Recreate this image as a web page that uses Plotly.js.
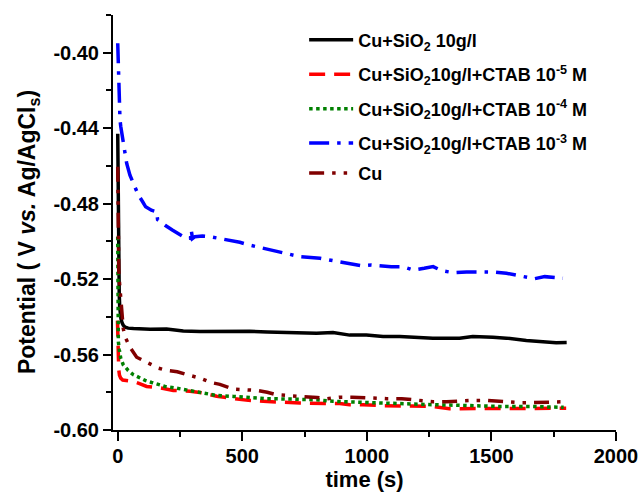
<!DOCTYPE html>
<html>
<head>
<meta charset="utf-8">
<script src="https://cdn.plot.ly/plotly-3.0.1.min.js"></script>
<style>html,body{margin:0;padding:0;background:#fff;}#chart{width:641px;height:495px;}</style>
</head>
<body>
<div id="chart"></div>
<script>
// ---- data ----
const seriesNames = [
  'Cu+SiO<sub>2</sub> 10g/l',
  'Cu+SiO<sub>2</sub>10g/l+CTAB 10<sup>-5</sup> M',
  'Cu+SiO<sub>2</sub>10g/l+CTAB 10<sup>-4</sup> M',
  'Cu+SiO<sub>2</sub>10g/l+CTAB 10<sup>-3</sup> M',
  'Cu'
];
const xTitle = 'time (s)';
const yTitle = 'Potential ( V <i>vs.</i> Ag/AgCl<sub>s</sub>)';

const tBlack = [0, 2, 4, 6, 8, 10, 13, 17, 22, 30, 42, 63, 100, 130, 196, 230, 263, 330, 400, 463, 530, 600, 660, 731, 798, 864, 931, 998, 1065, 1132, 1225, 1265, 1372, 1425, 1506, 1560, 1640, 1720, 1760, 1802];
const vBlack = [-0.443, -0.485, -0.515, -0.528, -0.535, -0.538, -0.541, -0.543, -0.5445, -0.5455, -0.546, -0.5462, -0.5465, -0.5466, -0.5464, -0.5468, -0.5475, -0.5478, -0.5478, -0.5475, -0.5477, -0.548, -0.5482, -0.5487, -0.5487, -0.5483, -0.5497, -0.5497, -0.5504, -0.5504, -0.5513, -0.5513, -0.5513, -0.5504, -0.5508, -0.5513, -0.5526, -0.5536, -0.5537, -0.5536];

const tRed = [-1, 0, 1, 2, 4, 7, 12, 20, 40, 63, 90, 116, 170, 223, 290, 343, 397, 450, 524, 584, 664, 731, 831, 891, 931, 984, 1065, 1125, 1205, 1265, 1332, 1392, 1405, 1465, 1538, 1598, 1678, 1738, 1800];
const vRed = [-0.542, -0.550, -0.557, -0.563, -0.568, -0.571, -0.5725, -0.5735, -0.574, -0.5742, -0.5755, -0.5769, -0.5777, -0.579, -0.5795, -0.5804, -0.5821, -0.583, -0.5843, -0.5848, -0.5854, -0.5857, -0.586, -0.586, -0.5866, -0.5866, -0.5871, -0.5871, -0.5875, -0.5875, -0.5887, -0.5887, -0.5887, -0.5887, -0.5887, -0.5887, -0.5888, -0.5888, -0.5885];

const tGreen = [0, 0.5, 1, 1.5, 2.4, 6.4, 12, 22, 42, 63, 87, 110, 136, 163, 190, 236, 290, 343, 397, 464, 530, 598, 700, 798, 864, 1000, 1132, 1265, 1400, 1530, 1660, 1790];
const vGreen = [-0.4975, -0.51, -0.525, -0.54, -0.5531, -0.5575, -0.5619, -0.5654, -0.5684, -0.5707, -0.5725, -0.5737, -0.5748, -0.576, -0.5769, -0.5778, -0.5792, -0.5804, -0.5817, -0.5822, -0.583, -0.5834, -0.5836, -0.584, -0.5848, -0.5855, -0.586, -0.5866, -0.587, -0.5875, -0.5875, -0.588];

const tBlue = [0, 1, 2, 3, 4, 6, 9, 12, 16, 22, 29, 36, 49, 65, 83, 100, 112, 135, 156, 160, 170, 190, 219, 240, 263, 280, 292, 295, 300, 310, 340, 370, 410, 450, 490, 530, 600, 660, 731, 812, 858, 900, 932, 976, 1018, 1060, 1098, 1145, 1186, 1230, 1266, 1300, 1346, 1400, 1466, 1513, 1560, 1600, 1627, 1673, 1714, 1750, 1787];
const vBlue = [-0.395, -0.401, -0.408, -0.4125, -0.419, -0.428, -0.4353, -0.439, -0.442, -0.447, -0.4526, -0.4587, -0.4649, -0.470, -0.4755, -0.479, -0.4817, -0.4835, -0.4843, -0.4885, -0.4896, -0.4915, -0.494, -0.4958, -0.4975, -0.498, -0.4985, -0.494, -0.4985, -0.4975, -0.4972, -0.4975, -0.4985, -0.4993, -0.5005, -0.502, -0.504, -0.506, -0.5081, -0.509, -0.510, -0.511, -0.512, -0.5129, -0.5125, -0.513, -0.5134, -0.5134, -0.5152, -0.5143, -0.5134, -0.5155, -0.5166, -0.5162, -0.516, -0.5163, -0.5169, -0.5178, -0.5183, -0.5198, -0.5187, -0.519, -0.5196];

const tCu = [0, 0.5, 1, 2, 4, 6, 9, 13, 16, 22, 29, 49, 76, 116, 163, 196, 239, 279, 330, 373, 410, 464, 510, 557, 600, 638, 690, 744, 800, 840, 890, 940, 1000, 1080, 1140, 1200, 1265, 1320, 1380, 1420, 1480, 1540, 1610, 1660, 1720, 1790, 1800];
const vCu = [-0.4605, -0.48, -0.495, -0.508, -0.515, -0.52, -0.525, -0.533, -0.540, -0.546, -0.5505, -0.5561, -0.5614, -0.564, -0.5672, -0.5684, -0.5691, -0.5707, -0.5725, -0.5748, -0.5758, -0.5783, -0.5786, -0.579, -0.580, -0.5813, -0.5818, -0.5822, -0.5828, -0.5834, -0.5826, -0.5826, -0.583, -0.5834, -0.5834, -0.584, -0.585, -0.585, -0.5845, -0.5843, -0.5843, -0.585, -0.5855, -0.5855, -0.5852, -0.585, -0.585];

const xTickVals = [0, 500, 1000, 1500, 2000];
const xTickText = ['0', '500', '1000', '1500', '2000'];
const yTickVals = [-0.60, -0.56, -0.52, -0.48, -0.44, -0.40];
const yTickText = ['-0.60', '-0.56', '-0.52', '-0.48', '-0.44', '-0.40'];

// ---- chart ----
const FONT = 'Liberation Sans, Arial, sans-serif';
const LW = 3.5;
function tr(x, y, name, color, dash, group, leg) {
  return {
    x: x, y: y, name: name, type: 'scatter', mode: 'lines',
    line: {color: color, width: LW, dash: dash},
    legendgroup: group, legend: leg || 'legend'
  };
}
const traces = [
  tr(tBlack, vBlack, seriesNames[0], '#000000', 'solid', 'g1'),
  tr(tRed, vRed, seriesNames[1], '#ff0000', '16px,9px', 'g2'),
  tr(tGreen, vGreen, seriesNames[2], '#008000', '3.5px,3.5px', 'g3'),
  tr(tBlue, vBlue, seriesNames[3], '#0000ff', '20px,8px,3.5px,8px', 'g4'),
  tr(tCu, vCu, seriesNames[4], '#800000', '15px,8px,3.5px,8px,3.5px,8px', 'g5', 'legend2')
];

const xr = [-19, 2000];
const yr = [-0.60, -0.38];
const axBase = {
  showgrid: false, zeroline: false, showline: true, linecolor: '#000', linewidth: 2,
  tickcolor: '#000', tickwidth: 2,
  tickfont: {family: FONT, size: 20, color: '#000', weight: 'bold'}
};
const legBase = {
  x: 0.38, xanchor: 'left', yanchor: 'top',
  bgcolor: 'rgba(0,0,0,0)', borderwidth: 0,
  font: {family: FONT, size: 18, color: '#000', weight: 'bold'},
  itemwidth: 44, tracegroupgap: 8
};

const layout = {
  width: 641, height: 495,
  margin: {l: 113, r: 25, t: 15, b: 65},
  paper_bgcolor: '#fff', plot_bgcolor: '#fff',
  font: {family: FONT, color: '#000', weight: 'bold'},
  showlegend: true,
  legend: Object.assign({}, legBase, {y: 0.984}),
  legend2: Object.assign({}, legBase, {y: 0.663}),
  xaxis: Object.assign({}, axBase, {
    range: xr, ticks: 'outside', ticklen: 9, ticklabelstandoff: -2,
    tickmode: 'array', tickvals: xTickVals, ticktext: xTickText,
    minor: {ticks: 'outside', ticklen: 5, dtick: 250, tick0: 0, tickcolor: '#000', tickwidth: 2},
    title: {text: xTitle, font: {family: FONT, size: 22, color: '#000', weight: 'bold'}, standoff: 0}
  }),
  yaxis: Object.assign({}, axBase, {
    range: yr, ticks: 'outside', ticklen: 8,
    tickmode: 'array', tickvals: yTickVals, ticktext: yTickText,
    minor: {ticks: 'outside', ticklen: 5, dtick: 0.02, tick0: -0.60, tickcolor: '#000', tickwidth: 2}
  }),
  xaxis2: Object.assign({}, axBase, {
    range: xr, overlaying: 'x', side: 'top', anchor: 'y2', ticks: 'inside', ticklen: 7,
    tickmode: 'array', tickvals: xTickVals, showticklabels: false,
    minor: {ticks: 'inside', ticklen: 4, dtick: 250, tick0: 0, tickcolor: '#000', tickwidth: 2}
  }),
  yaxis2: Object.assign({}, axBase, {
    range: yr, overlaying: 'y', side: 'right', anchor: 'x2', ticks: 'inside', ticklen: 7,
    tickmode: 'array', tickvals: yTickVals, showticklabels: false,
    minor: {ticks: 'inside', ticklen: 4, dtick: 0.02, tick0: -0.60, tickcolor: '#000', tickwidth: 2}
  }),
  annotations: [{
    text: yTitle, textangle: -90, showarrow: false,
    xref: 'paper', yref: 'paper', x: -0.169, y: 0.477, xanchor: 'center', yanchor: 'middle',
    font: {family: FONT, size: 23, color: '#000', weight: 'bold'}
  }]
};

Plotly.newPlot('chart', traces, layout, {displayModeBar: false, staticPlot: true});
</script>
</body>
</html>
